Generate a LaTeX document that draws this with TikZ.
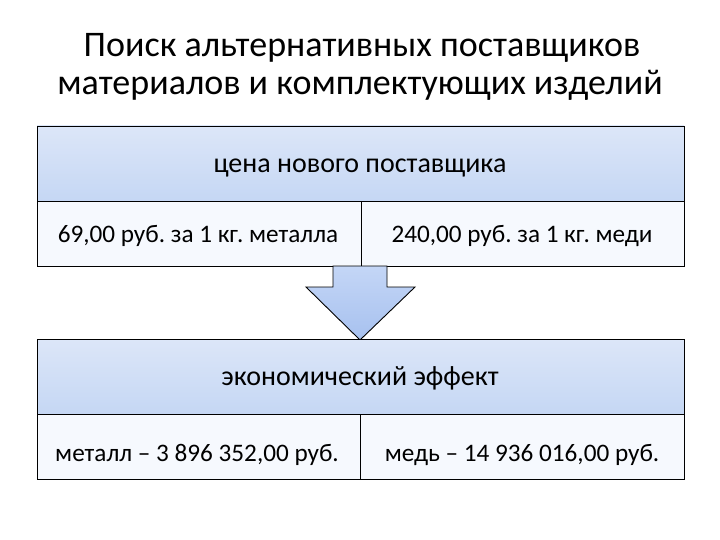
\documentclass[tikz,border=0pt]{standalone}
\usepackage{fontspec}
\setmainfont{Carlito}
\frenchspacing
\usetikzlibrary{calc}
\begin{document}
\begin{tikzpicture}[x=1pt,y=-1pt,
  hdr/.style={draw=black, line width=0.9pt, top color=hdrtop, bottom color=hdrbot},
  cellbox/.style={draw=black, line width=0.9pt, fill=cellfill},
  hdrtxt/.style={font=\fontsize{28}{32}\selectfont, anchor=base, inner sep=0pt},
  celltxt/.style={font=\fontsize{25.2}{30}\selectfont, anchor=base, inner sep=0pt},
  titletxt/.style={font=\fontsize{36}{42}\selectfont, anchor=base, inner sep=0pt}]
\definecolor{hdrtop}{HTML}{DCE6F8}
\definecolor{hdrbot}{HTML}{C5D7F4}
\definecolor{cellfill}{HTML}{F6F9FE}
\definecolor{arrtop}{HTML}{C4D6F6}
\definecolor{arrbot}{HTML}{A7C1EF}
\useasboundingbox (0,0) rectangle (720,540);
\fill[white] (0,0) rectangle (720,540);
% title
\node[titletxt] (t1) at (362,57) {Поиск альтернативных поставщиков};
\node[titletxt] (t2) at (360,95) {материалов и комплектующих изделий};
% top table
\path[hdr] (37,126) rectangle (684,201);
\path[cellbox] (37,201) rectangle (361,266);
\path[cellbox] (361,201) rectangle (684,266);
\node[hdrtxt] (h1) at (360,173) {цена нового поставщика};
\node[celltxt] (c1) at (198,242) {69,00 руб. за 1 кг. металла};
\node[celltxt] (c2) at (522,242) {240,00 руб. за 1 кг. меди};
% arrow
\path[draw=black, line width=0.9pt, top color=arrtop, bottom color=arrbot]
  (333,266) -- (387,266) -- (387,287) -- (415,287) -- (360,340) -- (306,287) -- (333,287) -- cycle;
% bottom table
\path[hdr] (37,339) rectangle (684,414);
\path[cellbox] (37,414) rectangle (360,479);
\path[cellbox] (360,414) rectangle (684,479);
\node[hdrtxt] (h2) at (360,385) {экономический эффект};
\node[celltxt] (d1) at (197,461) {металл – 3 896 352,00 руб.};
\node[celltxt] (d2) at (522,461) {медь – 14 936 016,00 руб.};
\end{tikzpicture}
\end{document}
